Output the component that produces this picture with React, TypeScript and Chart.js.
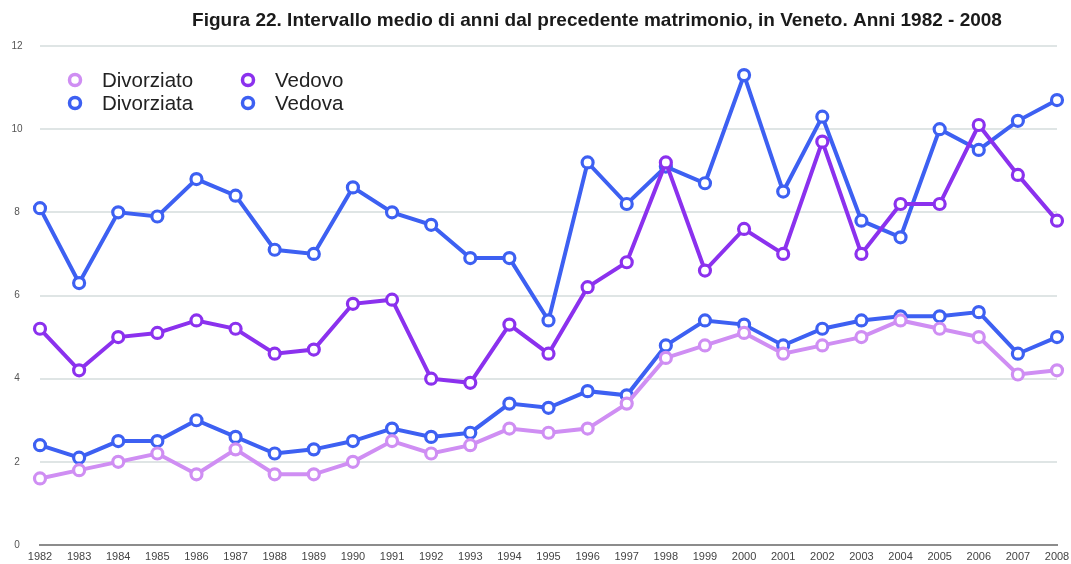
import React, { useEffect, useRef } from "react";
import { Chart, registerables } from "chart.js";
Chart.register(...registerables);

const TITLE = "Figura 22. Intervallo medio di anni dal precedente matrimonio, in Veneto. Anni 1982 - 2008";

const years = [
  "1982", "1983", "1984", "1985", "1986", "1987", "1988", "1989", "1990", "1991",
  "1992", "1993", "1994", "1995", "1996", "1997", "1998", "1999", "2000", "2001",
  "2002", "2003", "2004", "2005", "2006", "2007", "2008",
];

const divorziato = [1.6, 1.8, 2.0, 2.2, 1.7, 2.3, 1.7, 1.7, 2.0, 2.5, 2.2, 2.4, 2.8, 2.7, 2.8, 3.4, 4.5, 4.8, 5.1, 4.6, 4.8, 5.0, 5.4, 5.2, 5.0, 4.1, 4.2];
const divorziata = [2.4, 2.1, 2.5, 2.5, 3.0, 2.6, 2.2, 2.3, 2.5, 2.8, 2.6, 2.7, 3.4, 3.3, 3.7, 3.6, 4.8, 5.4, 5.3, 4.8, 5.2, 5.4, 5.5, 5.5, 5.6, 4.6, 5.0];
const vedovo = [5.2, 4.2, 5.0, 5.1, 5.4, 5.2, 4.6, 4.7, 5.8, 5.9, 4.0, 3.9, 5.3, 4.6, 6.2, 6.8, 9.2, 6.6, 7.6, 7.0, 9.7, 7.0, 8.2, 8.2, 10.1, 8.9, 7.8];
const vedova = [8.1, 6.3, 8.0, 7.9, 8.8, 8.4, 7.1, 7.0, 8.6, 8.0, 7.7, 6.9, 6.9, 5.4, 9.2, 8.2, 9.1, 8.7, 11.3, 8.5, 10.3, 7.8, 7.4, 10.0, 9.5, 10.2, 10.7];

const seriesNames = ["Divorziato", "Divorziata", "Vedovo", "Vedova"];
const seriesColors = ["#cf8ef3", "#3d60f2", "#8b31ee", "#3d60f2"];
const yMin = 0;
const yMax = 12;
const yStep = 2;

const overlayPlugin = {
  id: "overlay",
  afterDraw(chart: any) {
    const ctx = chart.ctx;
    const area = chart.chartArea;
    ctx.save();
    // title
    ctx.fillStyle = "#1a1a1a";
    ctx.font = "bold 19px 'Liberation Sans', Arial, sans-serif";
    ctx.textAlign = "center";
    ctx.textBaseline = "middle";
    ctx.fillText(TITLE, 597, 21);
    // legend (2 columns, column-major)
    const colX = [area.left + 35, area.left + 208];
    const rowY = [area.top + 34, area.top + 57];
    chart.data.datasets.forEach((ds: any, i: number) => {
      const cx = colX[Math.floor(i / 2)];
      const cy = rowY[i % 2];
      ctx.beginPath();
      ctx.arc(cx, cy, 5.5, 0, Math.PI * 2);
      ctx.fillStyle = "#ffffff";
      ctx.fill();
      ctx.lineWidth = 3.5;
      ctx.strokeStyle = ds.borderColor;
      ctx.stroke();
      ctx.fillStyle = "#222222";
      ctx.font = "20.5px 'Liberation Sans', Arial, sans-serif";
      ctx.textAlign = "left";
      ctx.textBaseline = "middle";
      ctx.fillText(ds.label, cx + 27, cy + 1);
    });
    ctx.restore();
  },
};

export default function App() {
  const ref = useRef<HTMLCanvasElement | null>(null);
  useEffect(() => {
    if (!ref.current) return;
    const series = [divorziato, divorziata, vedovo, vedova];
    const chart = new Chart(ref.current, {
      type: "line",
      data: {
        labels: years,
        datasets: series.map((d, i) => ({
          label: seriesNames[i],
          data: d,
          borderColor: seriesColors[i],
          backgroundColor: "#ffffff",
          pointBackgroundColor: "#ffffff",
          pointBorderColor: seriesColors[i],
          borderWidth: 4,
          pointRadius: 5.5,
          pointBorderWidth: 3.2,
          tension: 0,
          fill: false,
        })),
      },
      options: {
        responsive: false,
        animation: false,
        layout: { padding: { top: 46, right: 14, bottom: 0, left: 0 } },
        plugins: {
          legend: { display: false },
          title: { display: false },
          tooltip: { enabled: false },
        },
        scales: {
          x: {
            offset: false,
            grid: { display: false, drawTicks: false },
            border: { display: true, color: "#8c8c8c", width: 2 },
            ticks: {
              autoSkip: false,
              maxRotation: 0,
              minRotation: 0,
              padding: 5,
              color: "#444444",
              font: { size: 11, family: "'Liberation Sans', Arial, sans-serif" },
            },
            afterFit(scale: any) {
              scale.height = 19;
              scale.paddingLeft = 0;
              scale.paddingRight = 0;
            },
          },
          y: {
            min: yMin,
            max: yMax,
            ticks: {
              stepSize: yStep,
              padding: 17.5,
              crossAlign: "center",
              color: "#555555",
              font: { size: 10, family: "'Liberation Sans', Arial, sans-serif" },
            },
            grid: { color: "#dfe5e5", lineWidth: 2, drawTicks: false },
            border: { display: false },
            afterFit(scale: any) {
              scale.width = 40;
              scale.paddingTop = 0;
              scale.paddingBottom = 0;
            },
          },
        },
      },
      plugins: [overlayPlugin],
    } as any);
    return () => chart.destroy();
  }, []);
  return (
    <div style={{ position: "absolute", left: 0, top: 0, width: 1071, height: 564, background: "#ffffff" }}>
      <canvas ref={ref} width={1071} height={564} style={{ display: "block" }} />
    </div>
  );
}
